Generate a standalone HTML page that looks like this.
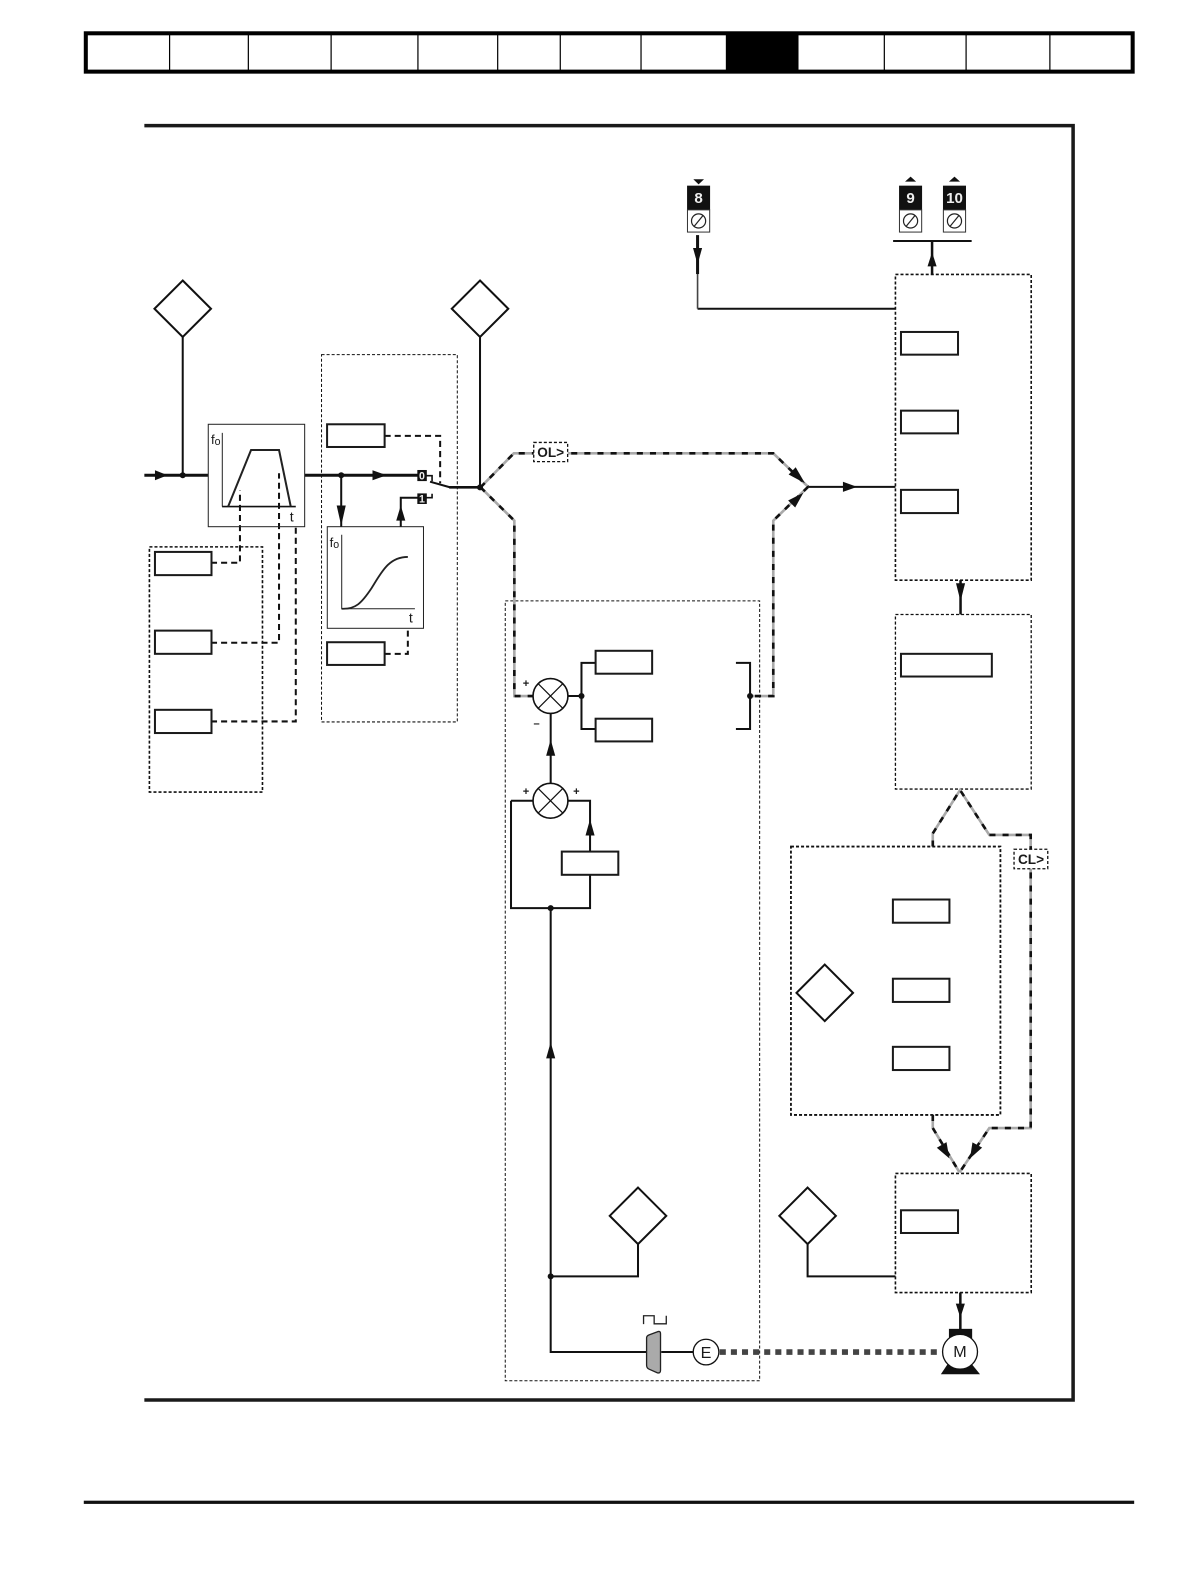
<!DOCTYPE html>
<html><head><meta charset="utf-8"><style>
html,body{margin:0;padding:0;background:#fff;width:1190px;height:1582px;overflow:hidden}
svg{display:block;width:1190px;height:1582px}
text{font-family:"Liberation Sans",sans-serif;fill:#1a1a1a}
</style></head><body>
<svg width="1190" height="1582" viewBox="0 0 1178.8 1567.9" preserveAspectRatio="none" xmlns="http://www.w3.org/2000/svg">
<defs>
<g id="ter"><rect x="-11.400" y="-23" width="22.800" height="24" fill="#111"/><rect x="-11" y="1" width="22" height="22" fill="#fff" stroke="#333"/><circle cx="0" cy="12" r="7" fill="none" stroke="#222" stroke-width="1.200"/><path d="M-4.500,17.500 L4.500,6.500" stroke="#222" stroke-width="1.200"/></g>
<g id="sum"><circle r="17.300" fill="#fff" stroke="#111" stroke-width="1.600"/><path d="M-12.200,-12.200 L12.200,12.200 M-12.200,12.200 L12.200,-12.200" stroke="#111" stroke-width="1.200"/></g>
</defs>

<!-- header -->
<rect x="85" y="33" width="1037" height="38" fill="#fff" stroke="#000" stroke-width="4"/>
<rect x="719" y="33" width="72" height="38" fill="#000"/>
<path d="M168,33V71M246,33V71M328,33V71M414,33V71M493,33V71M555,33V71M635,33V71M876,33V71M957,33V71M1040,33V71" stroke="#000" stroke-width="1.200"/>
<rect x="83" y="1487.300" width="1040.500" height="3.200" fill="#111"/>

<!-- frame -->
<path d="M143,124.500 H1063 V1387.500 H143" fill="none" stroke="#1a1a1a" stroke-width="3.500"/>

<!-- dotted containers -->
<g fill="none" stroke="#111" stroke-dasharray="3 2">
<rect x="318.500" y="351.500" width="134.500" height="364" stroke-width="1"/>
<rect x="500.500" y="595.500" width="252" height="773" stroke-width="1"/>
<rect x="148" y="542" width="112" height="243" stroke-width="1.600"/>
<rect x="887" y="272" width="134.500" height="303" stroke-width="1.600"/>
<rect x="887" y="609" width="134.500" height="173" stroke-width="1.300"/>
<rect x="783.500" y="839" width="207.500" height="266" stroke-width="1.800"/>
<rect x="887" y="1163" width="134.500" height="118" stroke-width="1.600"/>
</g>

<!-- dashed control lines -->
<g fill="none" stroke="#111" stroke-width="2" stroke-dasharray="6 4">
<path d="M209,557.700 H237.700 V486"/>
<path d="M209,637 H276.400 V469"/>
<path d="M209,715 H293 V522"/>
<path d="M381,432 H436 V479"/>
<path d="M381,648 H404 V623"/>
</g>

<!-- solid lines -->
<g fill="none" stroke="#111">
<path d="M143,471 H206" stroke-width="3"/>
<path d="M302,471 H414" stroke-width="3"/>
<path d="M181,334 V471" stroke-width="2"/>
<path d="M338,471 V522" stroke-width="2"/>
<path d="M397,522 V493.300 H414" stroke-width="2"/>
<path d="M422,471.400 H428 V477 M422,493.300 H428 V489.300" stroke-width="1.600"/>
<path d="M426,477.400 L446,483" stroke-width="2"/>
<path d="M445,483 H476" stroke-width="2.600"/>
<path d="M475.500,334 V483" stroke-width="2"/>
<path d="M800,482.500 H887" stroke-width="2"/>
<path d="M951.500,575 V609" stroke-width="2.500"/>
<path d="M691,306 H887" stroke-width="2"/>
<path d="M691,306 V271" stroke-width="1.600" stroke="#444"/>
<path d="M691,271.600 V233" stroke-width="3"/>
<path d="M923.300,272 V239" stroke-width="2.500"/>
<path d="M884.700,238.800 H962.500" stroke-width="2"/>
<path d="M951.300,1281 V1320" stroke-width="2.500"/>
<path d="M800,1233 V1265 H887" stroke-width="2"/>
<path d="M632,1233 V1265 H545.500" stroke-width="2"/>
<path d="M545.500,900 V1340 H640" stroke-width="2"/>
<path d="M506.200,793.600 H528 M506.200,793.600 V900 H584.500 V867" stroke-width="2"/>
<path d="M563,793.600 H584.500 V844" stroke-width="2"/>
<path d="M545.500,776 V707" stroke-width="2"/>
<path d="M655,1340 H687" stroke-width="2"/>
<path d="M563,689.800 H576 M590,657 H576 V722.500 H590" stroke-width="2"/>
<path d="M729,657 H743 V722.500 H729" stroke-width="2"/>
<path d="M743,689.800 H766" stroke-width="1.800"/>
</g>

<!-- gray/black dashed signal paths -->
<g fill="none" stroke="#aaa" stroke-width="2.600">
<path d="M476,483 L509,449.300 H766 L800.500,482.500"/>
<path d="M476,483 L509.500,516 V689.800 H528"/>
<path d="M800.500,482.500 L766,516 V689.800 H745"/>
<path d="M924,839 V826 L951,783 L980,827.500 H1021 V1118 H980 L950.500,1162"/>
<path d="M924,1105 V1118 L950.500,1162"/>
</g>
<g fill="none" stroke="#111" stroke-width="2.600" stroke-dasharray="6 7">
<path d="M476,483 L509,449.300 H766 L800.500,482.500"/>
<path d="M476,483 L509.500,516 V689.800 H528"/>
<path d="M800.500,482.500 L766,516 V689.800 H745"/>
<path d="M924,839 V826 L951,783 L980,827.500 H1021 V1118 H980 L950.500,1162"/>
<path d="M924,1105 V1118 L950.500,1162"/>
</g>

<!-- encoder dashed -->
<path d="M713,1340 H933" fill="none" stroke="#444" stroke-width="5.500" stroke-dasharray="6 5"/>

<!-- junction dots -->
<g fill="#111">
<circle cx="181" cy="471" r="3"/><circle cx="338" cy="471" r="3"/>
<circle cx="475.500" cy="483" r="3"/><circle cx="576" cy="689.800" r="3"/>
<circle cx="743" cy="689.800" r="3"/><circle cx="545.500" cy="900" r="3"/>
<circle cx="545.500" cy="1265" r="3"/>
</g>

<!-- arrowheads -->
<g fill="#111">
<path d="M153.500,466 L166,471 L153.500,476 Z"/>
<path d="M369,466 L383,471 L369,476 Z"/>
<path d="M333.500,501 H342.500 L338,521 Z"/>
<path d="M392.500,516 H401.500 L397,501 Z"/>
<path d="M835,477.500 L849,482.500 L835,487.500 Z"/>
<path d="M947,578 H956 L951.500,596 Z"/>
<path d="M686.500,245.800 H695.500 L691,262 Z"/>
<path d="M918.800,264 H927.800 L923.300,250 Z"/>
<path d="M946.800,1292 H955.800 L951.300,1306 Z"/>
<path d="M541,749 H550 L545.500,733 Z"/>
<path d="M580,828 H589 L584.500,812 Z"/>
<path d="M541,1049 H550 L545.500,1033 Z"/>
<path d="M788.200,463.100 L781.200,470.300 L797.400,478.900 Z"/>
<path d="M787.700,503 L780.700,496 L795.800,488.300 Z"/>
<path d="M937.600,1132 L928,1137.500 L940.400,1148 Z"/>
<path d="M972.900,1137.400 L963.300,1132.200 L960.900,1148 Z"/>
</g>

<!-- diamonds -->
<g fill="#fff" stroke="#111" stroke-width="2">
<path d="M181,278 L209,306 L181,334 L153,306 Z"/>
<path d="M475.500,278 L503.500,306 L475.500,334 L447.500,306 Z"/>
<path d="M817,956 L845,984 L817,1012 L789,984 Z"/>
<path d="M632,1177 L660,1205 L632,1233 L604,1205 Z"/>
<path d="M800,1177 L828,1205 L800,1233 L772,1205 Z"/>
</g>

<!-- ramp box -->
<rect x="206.300" y="420.500" width="95.500" height="101.500" fill="none" stroke="#222" stroke-width="1"/>
<path d="M220.200,429 V502" fill="none" stroke="#222" stroke-width="1"/>
<path d="M220,502 H293" stroke="#111" stroke-width="1.600"/>
<path d="M226,502 L248.700,446 H276.400 L288,502" fill="none" stroke="#222" stroke-width="2"/>
<text x="209" y="440" font-size="13">f<tspan font-size="10.500" dy="1">o</tspan></text>
<text x="287" y="517" font-size="14">t</text>

<!-- S box -->
<rect x="324.200" y="522" width="95.300" height="100.700" fill="#fff" stroke="#222" stroke-width="1"/>
<path d="M338.500,530 V603.300 H411" fill="none" stroke="#222" stroke-width="1"/>
<path d="M338.500,603.300 C352,604 358,598 368,583 C378,567 385,552 404,552" fill="none" stroke="#222" stroke-width="1.800"/>
<text x="326.500" y="542" font-size="13">f<tspan font-size="10.500" dy="1">o</tspan></text>
<text x="405" y="617" font-size="14">t</text>

<!-- switch labels -->
<rect x="413.400" y="465.800" width="9.400" height="11" fill="#111"/>
<rect x="413.400" y="489" width="9.400" height="10.500" fill="#111"/>
<text x="418" y="475" font-size="10.500" font-weight="bold" text-anchor="middle" style="fill:#eee">0</text>
<text x="418" y="498" font-size="10.500" font-weight="bold" text-anchor="middle" style="fill:#eee">1</text>

<!-- rectangles -->
<g fill="#fff" stroke="#1a1a1a" stroke-width="2">
<rect x="153.500" y="547" width="56" height="23"/>
<rect x="153.500" y="625" width="56" height="23"/>
<rect x="153.500" y="703.500" width="56" height="23"/>
<rect x="324" y="420.500" width="57" height="22.500"/>
<rect x="324" y="636.500" width="57" height="22.500"/>
<rect x="590" y="645" width="56" height="22.700"/>
<rect x="590" y="712.300" width="56" height="22.500"/>
<rect x="556.500" y="844" width="56" height="23"/>
<rect x="892.500" y="329" width="56.500" height="22.500"/>
<rect x="892.500" y="407" width="56.500" height="22.500"/>
<rect x="892.500" y="485.500" width="56.500" height="23"/>
<rect x="892.500" y="648" width="90" height="22.500"/>
<rect x="884.500" y="891.500" width="56" height="23"/>
<rect x="884.500" y="970" width="56" height="23"/>
<rect x="884.500" y="1037.500" width="56" height="23"/>
<rect x="892.500" y="1199.500" width="56.500" height="22.500"/>
</g>

<!-- OL / CL -->
<rect x="528.700" y="438.500" width="33.600" height="19" fill="#fff" stroke="#111" stroke-width="1.300" stroke-dasharray="3 2"/>
<text x="545.500" y="453" font-size="13.500" font-weight="bold" text-anchor="middle">OL&gt;</text>
<rect x="1004.500" y="841.700" width="33.400" height="19.300" fill="#fff" stroke="#111" stroke-width="1.300" stroke-dasharray="3 2"/>
<text x="1021.300" y="856.300" font-size="13.500" font-weight="bold" text-anchor="middle">CL&gt;</text>

<!-- summers -->
<use href="#sum" x="545.300" y="689.800"/>
<use href="#sum" x="545.300" y="793.600"/>
<text x="521" y="681" font-size="11" font-weight="bold" text-anchor="middle">+</text>
<text x="531.600" y="720.500" font-size="11" font-weight="bold" text-anchor="middle">–</text>
<text x="521" y="788" font-size="11" font-weight="bold" text-anchor="middle">+</text>
<text x="571" y="788" font-size="11" font-weight="bold" text-anchor="middle">+</text>

<!-- terminals -->
<use href="#ter" x="692" y="207"/>
<use href="#ter" x="902" y="207"/>
<use href="#ter" x="945.500" y="207"/>
<text x="692" y="201" font-size="15" font-weight="bold" text-anchor="middle" style="fill:#eee">8</text>
<text x="902" y="201" font-size="15" font-weight="bold" text-anchor="middle" style="fill:#eee">9</text>
<text x="945.500" y="201" font-size="15" font-weight="bold" text-anchor="middle" style="fill:#eee">10</text>
<path d="M686.800,177.700 H697.400 L692,182.700 Z M896.500,180 H907.500 L902,175 Z M940,180 H951 L945.500,175 Z" fill="#111"/>

<!-- encoder -->
<path d="M637.500,1312.300 V1304 H648 V1312 H660 V1304" fill="none" stroke="#222" stroke-width="1.300"/>
<path d="M640.500,1326 Q640.500,1324 643,1323 L651,1320 Q654.300,1318.500 654.300,1322 V1358 Q654.300,1361.500 651,1360.500 L643,1357 Q640.500,1356 640.500,1353 Z" fill="#aaa" stroke="#222" stroke-width="1.300"/>
<circle cx="699.400" cy="1340" r="12.700" fill="#fff" stroke="#111" stroke-width="1.300"/>
<text x="699.400" y="1346" font-size="16" text-anchor="middle">E</text>

<!-- motor -->
<rect x="940" y="1317" width="23" height="12" fill="#111"/>
<path d="M940,1350 L932,1362 H970.800 L961,1350 Z" fill="#111"/>
<circle cx="951" cy="1339.700" r="17.300" fill="#fff" stroke="#111" stroke-width="1.300"/>
<text x="951" y="1345" font-size="16" text-anchor="middle">M</text>
</svg>
</body></html>
